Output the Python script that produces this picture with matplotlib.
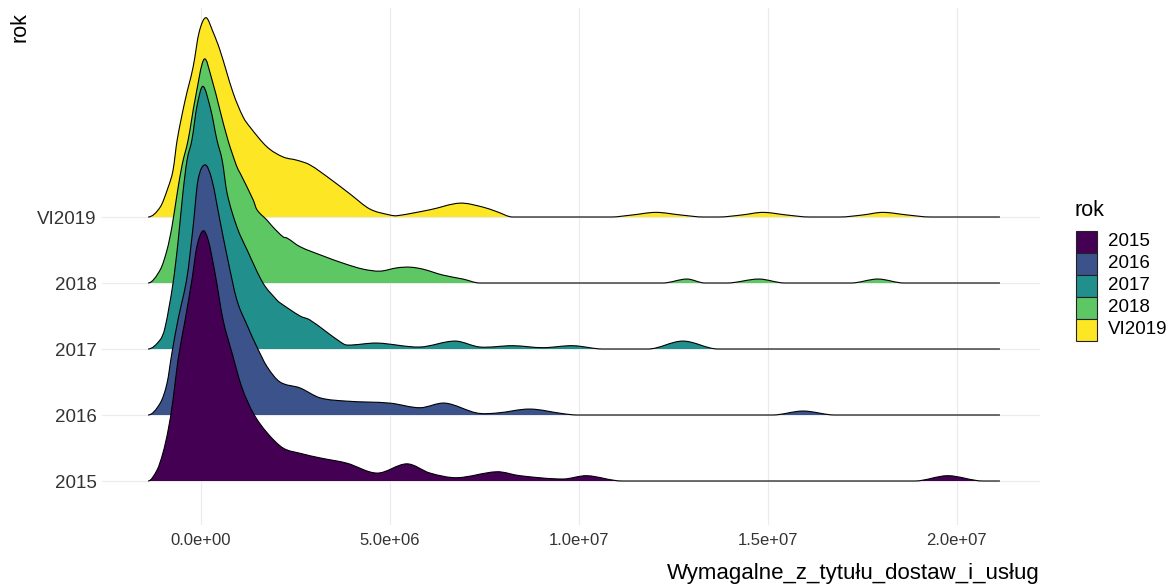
import matplotlib.pyplot as plt
from matplotlib.patches import Rectangle, PathPatch
from matplotlib.path import Path
from matplotlib.ticker import FuncFormatter

plt.rcParams['font.family'] = ['Liberation Sans', 'DejaVu Sans']

years = ['2015', '2016', '2017', '2018', 'VI2019']
colors = ['#440154', '#3B528B', '#21908C', '#5DC863', '#FDE725']

# x values in millions, ridge heights in units of row spacing
x_2015 = [-1.40, -1.16, -1.01, -0.87, -0.74, -0.61, -0.42, -0.24, -0.11, 0.05, 0.19, 0.37,
          0.58, 0.82, 1.08, 1.38, 1.75, 2.17, 2.62, 3.15, 3.86, 4.66, 5.45, 6.06, 6.77, 7.83,
          8.44, 9.58, 10.21, 11.14, 18.89, 19.76, 20.69, 21.14]
h_2015 = [0, 0.17, 0.42, 0.77, 1.23, 1.83, 2.44, 3.05, 3.55, 3.79, 3.65, 3.15,
          2.45, 1.94, 1.42, 1.03, 0.73, 0.50, 0.42, 0.35, 0.27, 0.12, 0.26, 0.12, 0.05, 0.14,
          0.08, 0.03, 0.08, 0, 0, 0.08, 0, 0]

x_2016 = [-1.40, -1.08, -0.90, -0.77, -0.61, -0.37, -0.21, -0.08, 0.11, 0.29, 0.50, 0.71,
          0.95, 1.22, 1.48, 1.75, 2.09, 2.62, 3.15, 3.86, 5.00, 5.79, 6.46, 7.30, 7.83, 8.70,
          9.58, 9.95, 15.13, 15.93, 16.77, 21.14]
h_2016 = [0, 0.18, 0.48, 0.94, 1.44, 2.09, 2.85, 3.56, 3.79, 3.56, 2.95, 2.35,
          1.74, 1.36, 1.03, 0.73, 0.50, 0.41, 0.26, 0.21, 0.18, 0.11, 0.18, 0.03, 0.03, 0.09,
          0.02, 0, 0, 0.06, 0, 0]

x_2017 = [-1.40, -1.08, -0.95, -0.74, -0.61, -0.48, -0.37, -0.24, -0.11, 0.05, 0.26, 0.42,
          0.56, 0.69, 0.95, 1.22, 1.64, 2.01, 2.09, 2.62, 2.88, 3.68, 3.86, 4.66, 5.79, 6.72,
          7.38, 8.25, 9.05, 9.84, 10.63, 11.83, 12.75, 13.68, 21.14]
h_2017 = [0, 0.14, 0.33, 1.00, 1.61, 2.36, 2.86, 3.17, 3.67, 3.98, 3.62, 3.17,
          2.86, 2.36, 1.85, 1.50, 1.00, 0.74, 0.70, 0.50, 0.44, 0.11, 0.06, 0.09, 0.03, 0.12,
          0.03, 0.05, 0.02, 0.05, 0, 0, 0.12, 0, 0]

x_2018 = [-1.40, -1.08, -0.90, -0.77, -0.63, -0.50, -0.34, -0.16, 0.08, 0.29, 0.50, 0.71,
          0.95, 1.03, 1.38, 1.48, 1.75, 1.90, 2.17, 2.28, 2.62, 3.23, 3.76, 4.29, 4.74, 5.19,
          5.53, 5.87, 6.40, 6.93, 7.38, 12.22, 12.86, 13.33, 13.92, 14.76, 15.45, 17.20, 17.91,
          18.60, 21.14]
h_2018 = [0, 0.20, 0.50, 0.85, 1.36, 1.79, 2.17, 2.77, 3.39, 3.08, 2.62, 2.17,
          1.76, 1.67, 1.26, 1.11, 0.95, 0.85, 0.70, 0.68, 0.55, 0.41, 0.30, 0.21, 0.18, 0.23,
          0.24, 0.21, 0.12, 0.06, 0, 0, 0.06, 0, 0, 0.06, 0, 0, 0.06,
          0, 0]

x_vi2019 = [-1.40, -1.08, -0.87, -0.74, -0.63, -0.42, -0.21, -0.05, 0.13, 0.32, 0.50, 0.85,
            1.11, 1.30, 1.75, 2.17, 2.54, 2.88, 3.41, 3.94, 4.47, 5.00, 5.19, 6.06, 6.85, 7.46,
            7.83, 8.25, 10.85, 11.40, 12.04, 12.70, 13.30, 13.70, 14.30, 14.87, 15.50, 16.10,
            16.90, 17.50, 18.04, 18.70, 19.30, 21.14]
h_vi2019 = [0, 0.15, 0.45, 0.71, 1.17, 1.77, 2.27, 2.80, 3.02, 2.80, 2.53, 1.88,
            1.52, 1.36, 1.06, 0.91, 0.86, 0.79, 0.58, 0.35, 0.12, 0.03, 0.02, 0.11, 0.21, 0.15,
            0.08, 0, 0, 0.03, 0.07, 0.03, 0, 0, 0.03, 0.07, 0.03, 0,
            0, 0.03, 0.07, 0.03, 0, 0]

series_x = [x_2015, x_2016, x_2017, x_2018, x_vi2019]
series_h = [h_2015, h_2016, h_2017, h_2018, h_vi2019]


def ridge_path(xs, ys, base, closed):
    # cubic curves through the read points (slopes from neighbours), kept above the baseline
    n = len(xs)
    slopes = []
    for i in range(n):
        if i == 0 or i == n - 1 or ys[i] <= base:
            slopes.append(0.0)
        else:
            slopes.append((ys[i + 1] - ys[i - 1]) / (xs[i + 1] - xs[i - 1]))
    verts = [(xs[0], ys[0])]
    codes = [Path.MOVETO]
    for i in range(n - 1):
        dx = (xs[i + 1] - xs[i]) / 3
        c1 = (xs[i] + dx, max(base, ys[i] + slopes[i] * dx))
        c2 = (xs[i + 1] - dx, max(base, ys[i + 1] - slopes[i + 1] * dx))
        verts += [c1, c2, (xs[i + 1], ys[i + 1])]
        codes += [Path.CURVE4] * 3
    if closed:
        verts += [(xs[-1], base), (xs[0], base), (xs[0], ys[0])]
        codes += [Path.LINETO, Path.LINETO, Path.CLOSEPOLY]
    return Path(verts, codes)


fig = plt.figure(figsize=(11.7, 5.86), dpi=100)
ax = fig.add_axes([102 / 1170, 1 - 525 / 586, 938 / 1170, 517 / 586])

# top row drawn first so the lower ridges overlap it
for i in range(len(years) - 1, -1, -1):
    base = i + 1
    xs = [v * 1e6 for v in series_x[i]]
    ys = [base + v for v in series_h[i]]
    z = 10 + (len(years) - i) * 2
    ax.add_patch(PathPatch(ridge_path(xs, ys, base, True), facecolor=colors[i],
                           lw=0, zorder=z))
    ax.add_patch(PathPatch(ridge_path(xs, ys, base, False), facecolor='none',
                           edgecolor='black', lw=0.8, zorder=z + 1))

ax.set_xlim(-2.62e6, 22.2e6)
ax.set_ylim(1 + (481 - 525) / 66, 1 + (481 - 8) / 66)
ax.set_xticks([0, 5e6, 1e7, 1.5e7, 2e7])
ax.xaxis.set_major_formatter(FuncFormatter(lambda v, p: f'{v:.1e}'))
ax.set_yticks(range(1, len(years) + 1))
ax.set_yticklabels(years)
ax.grid(True, color='#EBEBEB', lw=0.8)
ax.set_axisbelow(True)
for s in ax.spines.values():
    s.set_visible(False)
ax.tick_params(axis='both', length=0, colors='#4D4D4D')
ax.tick_params(axis='x', labelsize=12, pad=6, labelcolor='#333333')
ax.tick_params(axis='y', labelsize=13.5, pad=4, labelcolor='#333333')

fig.text(1040 / 1170, 1 - 574 / 586, 'Wymagalne_z_tytułu_dostaw_i_usług',
         ha='right', va='center', fontsize=16)
fig.text(20 / 1170, 1 - 12 / 586, 'rok', rotation=90, ha='center', va='top', fontsize=15.5)

# legend
fig.text(1075 / 1170, 1 - 211 / 586, 'rok', ha='left', va='center', fontsize=15.5)
for k, year in enumerate(years):
    top = 231 + 22 * k
    fig.add_artist(Rectangle((1076 / 1170, 1 - (top + 22) / 586), 21 / 1170, 22 / 586,
                             transform=fig.transFigure, facecolor=colors[k],
                             edgecolor='#222222', lw=0.8))
    fig.text(1108 / 1170, 1 - (top + 11) / 586, year, ha='left', va='center',
             fontsize=13.5, color='black')

fig.savefig('out.png', dpi=100)
